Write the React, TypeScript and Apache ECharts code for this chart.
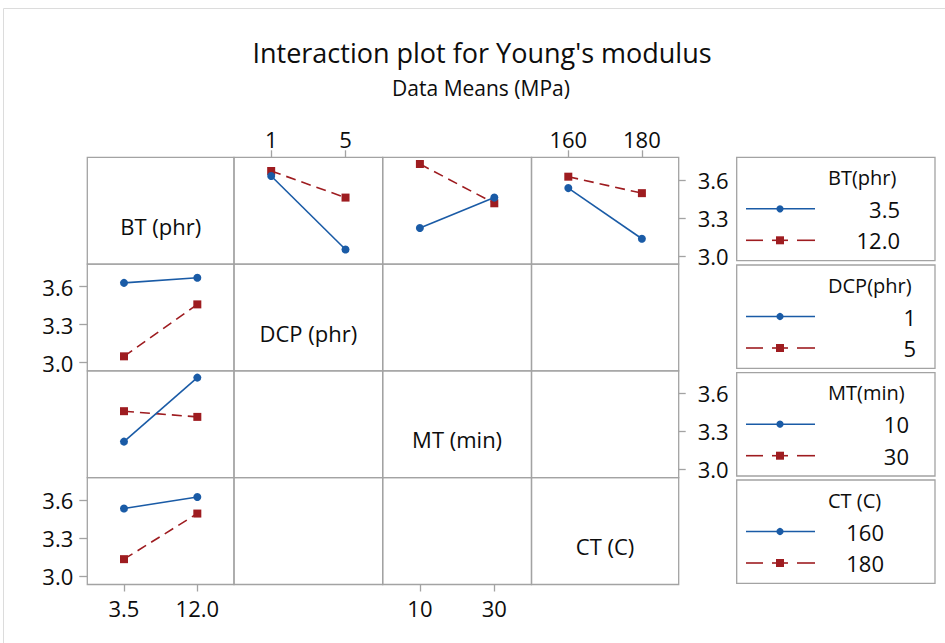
import React, { useEffect, useRef } from "react";
import * as echarts from "echarts";

// ---- data ----
const factorLabels = ["BT (phr)", "DCP (phr)", "MT (min)", "CT (C)"];
const legendTitles = ["BT(phr)", "DCP(phr)", "MT(min)", "CT (C)"];
const btLevels = ["3.5", "12.0"];
const dcpLevels = ["1", "5"];
const mtLevels = ["10", "30"];
const ctLevels = ["160", "180"];
// two-way means (MPa): rows = BT level, columns = level of the other factor
const meansBtDcp = [
  [3.63, 3.05],
  [3.67, 3.46],
];
const meansBtMt = [
  [3.22, 3.46],
  [3.725, 3.415],
];
const meansBtCt = [
  [3.535, 3.135],
  [3.625, 3.495],
];
const yTicks = [3.0, 3.3, 3.6];
const yMin = 2.935;
const yMax = 3.778;

const levels = [btLevels, dcpLevels, mtLevels, ctLevels];
const meansWithBt = [null, meansBtDcp, meansBtMt, meansBtCt];

// ---- layout ----
const colX = [87.3, 234, 382.7, 531.5, 678.7];
const rowY = [157.3, 264.1, 370.9, 477.7, 584.5];
const FONT = "'Open Sans', 'Noto Sans', sans-serif";
const BLUE = "#1a5ba6";
const RED = "#9e1c20";
const GRIDC = "#a3a3a3";
const TXT = "#0d0d0d";

function buildOption() {
  const grids: any[] = [];
  const xAxes: any[] = [];
  const yAxes: any[] = [];
  const series: any[] = [];
  for (let r = 0; r < 4; r++) {
    for (let c = 0; c < 4; c++) {
      const g = r * 4 + c;
      grids.push({
        left: colX[c],
        top: rowY[r],
        width: colX[c + 1] - colX[c],
        height: rowY[r + 1] - rowY[r],
        show: true,
        borderColor: GRIDC,
        borderWidth: 1.3,
        backgroundColor: "transparent",
      });
      const xTop = r === 0 && (c === 1 || c === 3);
      const xBottom = r === 3 && (c === 0 || c === 2);
      xAxes.push({
        type: "category",
        gridIndex: g,
        data: levels[c],
        position: xTop ? "top" : "bottom",
        boundaryGap: true,
        axisLine: { show: false },
        axisTick: {
          show: xTop || xBottom,
          alignWithLabel: true,
          length: 7,
          inside: false,
          lineStyle: { color: GRIDC, width: 1.3 },
        },
        axisLabel: {
          show: xTop || xBottom,
          margin: xTop ? 7 : 12,
          color: TXT,
          fontSize: 22,
          fontFamily: FONT,
        },
        splitLine: { show: false },
      });
      const yLeft = c === 0 && (r === 1 || r === 3);
      const yRight = c === 3 && (r === 0 || r === 2);
      yAxes.push({
        type: "value",
        gridIndex: g,
        min: yMin,
        max: yMax,
        position: yRight ? "right" : "left",
        axisLine: { show: false },
        axisTick: {
          show: yLeft || yRight,
          length: yLeft ? 8 : 7,
          customValues: yTicks,
          lineStyle: { color: GRIDC, width: 1.3 },
        },
        axisLabel: {
          show: yLeft || yRight,
          customValues: yTicks,
          margin: yLeft ? 14 : 19,
          color: TXT,
          fontSize: 22,
          fontFamily: FONT,
          formatter: (v: number) => v.toFixed(1),
        },
        splitLine: { show: false },
      });
    }
  }

  const styleFor = (k: number) =>
    k === 0
      ? {
          symbol: "circle",
          symbolSize: 8,
          itemStyle: { color: BLUE },
          lineStyle: { color: BLUE, width: 1.6, type: "solid" },
        }
      : {
          symbol: "rect",
          symbolSize: 8,
          itemStyle: { color: RED },
          lineStyle: { color: RED, width: 1.6, type: [10, 6] },
        };

  // top row: lines = BT levels, x = other factor
  for (let c = 1; c < 4; c++) {
    const m = meansWithBt[c] as number[][];
    for (let k = 0; k < 2; k++) {
      series.push({
        type: "line",
        name: `BT ${btLevels[k]} vs ${factorLabels[c]}`,
        xAxisIndex: c,
        yAxisIndex: c,
        data: m[k],
        ...styleFor(k),
        z: 3 - k,
      });
    }
  }
  // first column: x = BT, lines = levels of the other factor
  for (let r = 1; r < 4; r++) {
    const m = meansWithBt[r] as number[][];
    const g = r * 4;
    for (let k = 0; k < 2; k++) {
      series.push({
        type: "line",
        name: `${factorLabels[r]} ${levels[r][k]} vs BT`,
        xAxisIndex: g,
        yAxisIndex: g,
        data: [m[0][k], m[1][k]],
        ...styleFor(k),
        z: 3 - k,
      });
    }
  }

  const graphics: any[] = [];
  // faint frame lines of the original image
  graphics.push({
    type: "line",
    shape: { x1: 3.5, y1: 8.5, x2: 945, y2: 8.5 },
    style: { stroke: "#dcdcdc", lineWidth: 1 },
  });
  graphics.push({
    type: "line",
    shape: { x1: 3.5, y1: 8.5, x2: 3.5, y2: 643 },
    style: { stroke: "#dcdcdc", lineWidth: 1 },
  });
  graphics.push({
    type: "text",
    x: 482,
    y: 52,
    style: {
      text: "Interaction plot for Young's modulus",
      fontSize: 27,
      fontFamily: FONT,
      fill: TXT,
      align: "center",
      verticalAlign: "middle",
    },
  });
  graphics.push({
    type: "text",
    x: 481,
    y: 88,
    style: {
      text: "Data Means (MPa)",
      fontSize: 21,
      fontFamily: FONT,
      fill: TXT,
      align: "center",
      verticalAlign: "middle",
    },
  });
  // diagonal factor names
  for (let i = 0; i < 4; i++) {
    graphics.push({
      type: "text",
      x: (colX[i] + colX[i + 1]) / 2,
      y: (rowY[i] + rowY[i + 1]) / 2 + 15,
      style: {
        text: factorLabels[i],
        fontSize: 22,
        fontFamily: FONT,
        fill: TXT,
        align: "center",
        verticalAlign: "middle",
      },
    });
  }
  // legend boxes
  const boxTops = [157.3, 265, 372.7, 480];
  const boxH = 103.3;
  const boxX = 736.7;
  const boxW = 198.3;
  const textLeft = 828;
  const valueRight = [900, 916, 909, 884];
  for (let i = 0; i < 4; i++) {
    const t = boxTops[i];
    graphics.push({
      type: "rect",
      shape: { x: boxX, y: t, width: boxW, height: boxH },
      style: { fill: "#fff", stroke: GRIDC, lineWidth: 1.3 },
    });
    graphics.push({
      type: "text",
      x: textLeft,
      y: t + 20,
      style: {
        text: legendTitles[i],
        fontSize: 20,
        fontFamily: FONT,
        fill: TXT,
        align: "left",
        verticalAlign: "middle",
      },
    });
    const y1 = t + 51.5;
    const y2 = t + 83;
    graphics.push({
      type: "line",
      shape: { x1: 746, y1: y1, x2: 815, y2: y1 },
      style: { stroke: BLUE, lineWidth: 1.6 },
    });
    graphics.push({
      type: "circle",
      shape: { cx: 780, cy: y1, r: 3.6 },
      style: { fill: BLUE },
    });
    const segs = [
      [746, 763],
      [772, 788],
      [797, 815],
    ];
    segs.forEach(([a, b]) =>
      graphics.push({
        type: "line",
        shape: { x1: a, y1: y2, x2: b, y2: y2 },
        style: { stroke: RED, lineWidth: 1.6 },
      })
    );
    graphics.push({
      type: "rect",
      shape: { x: 776, y: y2 - 4, width: 8, height: 8 },
      style: { fill: RED },
    });
    [y1, y2].forEach((yy, k) =>
      graphics.push({
        type: "text",
        x: valueRight[i],
        y: yy,
        style: {
          text: levels[i][k],
          fontSize: 22,
          fontFamily: FONT,
          fill: TXT,
          align: "right",
          verticalAlign: "middle",
        },
      })
    );
  }

  return {
    animation: false,
    backgroundColor: "#ffffff",
    textStyle: { fontFamily: FONT },
    grid: grids,
    xAxis: xAxes,
    yAxis: yAxes,
    series,
    graphic: graphics,
  };
}

export default function App() {
  const ref = useRef<HTMLDivElement>(null);
  useEffect(() => {
    if (!ref.current) return;
    const chart = echarts.init(ref.current, undefined, { renderer: "svg" });
    chart.setOption(buildOption() as any);
    return () => chart.dispose();
  }, []);
  return (
    <div
      ref={ref}
      style={{ position: "fixed", left: 0, top: 0, width: 945, height: 643, background: "#fff" }}
    />
  );
}
